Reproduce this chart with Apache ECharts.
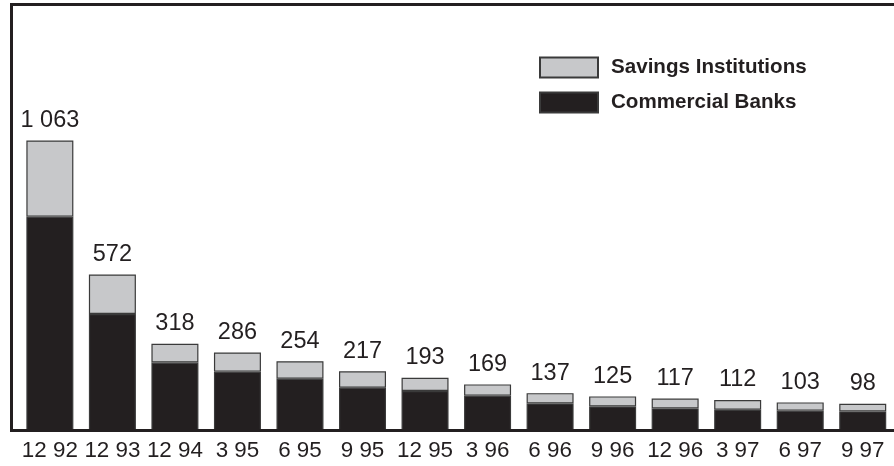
<!DOCTYPE html>
<html>
<head>
<meta charset="utf-8">
<script src="https://cdn.jsdelivr.net/npm/echarts@6/dist/echarts.min.js"></script>
<style>
html,body{margin:0;padding:0;background:#fff;}
#chart{width:894px;height:466px;}
</style>
</head>
<body>
<div id="chart"></div>
<script>
const categories = ["12 92","12 93","12 94","3 95","6 95","9 95","12 95","3 96","6 96","9 96","12 96","3 97","6 97","9 97"];
const totals = [1063,572,318,286,254,217,193,169,137,125,117,112,103,98];
const commercialBanks = [784,427,249,216,190,157,145,128,99,88,81,76,73,70];
const savingsInstitutions = [279,145,69,70,64,60,48,41,38,37,36,36,30,28];

const INK = '#231f20';
const GREY = '#c7c8ca';
const FONT = "'Liberation Sans', Arial, sans-serif";

function fmt(n){ return String(n).replace(/\B(?=(\d{3})+(?!\d))/g, ' '); }

const chart = echarts.init(document.getElementById('chart'), null, {renderer:'canvas'});
chart.setOption({
  animation: false,
  backgroundColor: '#fff',
  textStyle: { fontFamily: FONT },
  grid: { left: 18.6, width: 880, top: 21.3, height: 409.2 },
  legend: {
    orient: 'vertical',
    left: 534, top: 51.5,
    itemWidth: 58, itemHeight: 20, itemGap: 13,
    icon: 'rect',
    data: ['Savings Institutions', 'Commercial Banks'],
    textStyle: { fontFamily: FONT, fontSize: 20.6, fontWeight: 'bold', color: INK, lineHeight: 20, padding: [0,0,0,8] }
  },
  xAxis: {
    type: 'category',
    data: categories,
    axisLine: { show: true, lineStyle: { color: INK, width: 2.5 } },
    axisTick: { show: false },
    axisLabel: { interval: 0, fontFamily: FONT, fontSize: 22.4, color: INK, margin: 9 }
  },
  yAxis: {
    type: 'value', min: 0, max: 1500,
    show: false, splitLine: { show: false }
  },
  graphic: [{
    type: 'polyline',
    shape: { points: [[894, 430.5], [11.5, 430.5], [11.5, 4.5], [894, 4.5]] },
    style: { stroke: INK, lineWidth: 3, fill: null },
    z: 10
  }],
  series: [
    {
      name: 'Commercial Banks', type: 'bar', stack: 'total',
      data: commercialBanks, barWidth: 47,
      itemStyle: { color: INK, borderColor: '#3a3a3a', borderWidth: 1.2 }
    },
    {
      name: 'Savings Institutions', type: 'bar', stack: 'total',
      data: savingsInstitutions, barWidth: 47,
      itemStyle: { color: GREY, borderColor: '#3a3a3a', borderWidth: 1.2 },
      label: {
        show: true, position: 'top', distance: 8,
        fontFamily: FONT, fontSize: 23.5, color: INK,
        formatter: p => fmt(totals[p.dataIndex])
      }
    }
  ]
});
</script>
</body>
</html>
